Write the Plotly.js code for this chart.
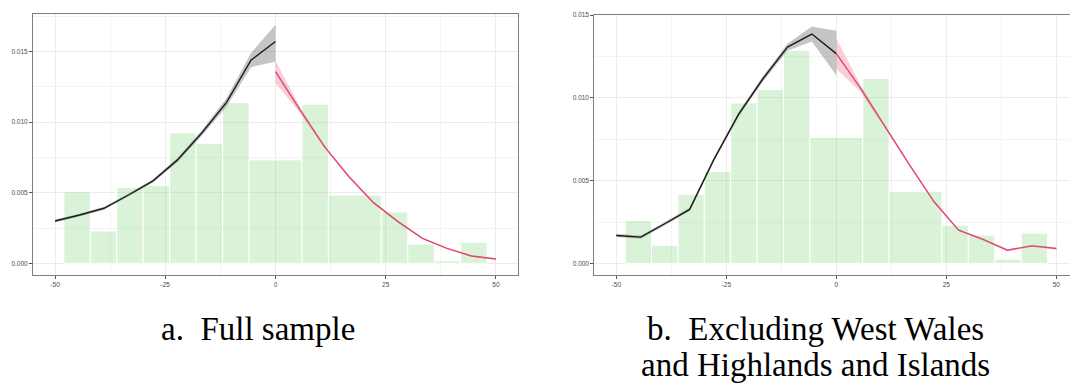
<!DOCTYPE html>
<html>
<head>
<meta charset="utf-8">
<script src="https://cdn.plot.ly/plotly-3.0.1.min.js"></script>
<style>
html,body{margin:0;padding:0;background:#fff;overflow:hidden;}
#chart{width:1070px;height:383px;}
</style>
</head>
<body>
<div id="chart"></div>
<script>
// ---------- data ----------
var binLeft  = [-48, -42, -36, -30, -24, -18, -12, -6, 6, 12, 24, 30, 36, 42];
var binRight = [-42, -36, -30, -24, -18, -12, -6, 6, 12, 24, 30, 36, 42, 48];

var histA = [0.00508, 0.00229, 0.00539, 0.00553, 0.00924, 0.00851, 0.01139, 0.00733, 0.01128, 0.00484, 0.00364, 0.00137, 0.00018, 0.00149];
var histB = [0.00259, 0.00110, 0.00418, 0.00555, 0.00969, 0.01050, 0.01287, 0.00762, 0.01118, 0.00436, 0.00231, 0.00171, 0.00026, 0.00183];

var xLeft  = [-50, -44.44, -38.89, -33.33, -27.78, -22.22, -16.67, -11.11, -5.56, 0];
var xRight = [0, 5.56, 11.11, 16.67, 22.22, 27.78, 33.33, 38.89, 44.44, 50];

// panel a fits
var fitALeft      = [0.00300, 0.00342, 0.00390, 0.00484, 0.00584, 0.00733, 0.00925, 0.01140, 0.01440, 0.01572];
var fitALeftLow   = [0.00290, 0.00332, 0.00380, 0.00474, 0.00572, 0.00718, 0.00905, 0.01110, 0.01390, 0.01430];
var fitALeftHigh  = [0.00310, 0.00352, 0.00400, 0.00494, 0.00596, 0.00748, 0.00945, 0.01170, 0.01490, 0.01690];
var fitARight     = [0.01359, 0.01087, 0.00827, 0.00614, 0.00430, 0.00295, 0.00177, 0.00106, 0.00052, 0.00030];
var fitARightLow  = [0.01277, 0.01067, 0.00817, 0.00606, 0.00423, 0.00289, 0.00172, 0.00101, 0.00047, 0.00025];
var fitARightHigh = [0.01435, 0.01107, 0.00837, 0.00622, 0.00437, 0.00301, 0.00182, 0.00111, 0.00057, 0.00035];

// panel b fits
var fitBLeft      = [0.00169, 0.00159, 0.00241, 0.00326, 0.00630, 0.00900, 0.01115, 0.01306, 0.01385, 0.01267];
var fitBLeftLow   = [0.00159, 0.00149, 0.00231, 0.00316, 0.00618, 0.00886, 0.01098, 0.01285, 0.01340, 0.01136];
var fitBLeftHigh  = [0.00179, 0.00169, 0.00251, 0.00336, 0.00642, 0.00914, 0.01132, 0.01327, 0.01430, 0.01405];
var fitBRight     = [0.01267, 0.01055, 0.00824, 0.00593, 0.00372, 0.00201, 0.00145, 0.00080, 0.00106, 0.00090];
var fitBRightLow  = [0.01176, 0.01035, 0.00814, 0.00585, 0.00365, 0.00195, 0.00139, 0.00074, 0.00100, 0.00084];
var fitBRightHigh = [0.01358, 0.01075, 0.00834, 0.00601, 0.00379, 0.00207, 0.00151, 0.00086, 0.00112, 0.00096];

var xTickVals  = [-50, -25, 0, 25, 50];
var xTickText  = ["-50", "-25", "0", "25", "50"];
var yTickVals  = [0, 0.005, 0.010, 0.015];
var yTickText  = ["0.000", "0.005", "0.010", "0.015"];

var captionA  = "a.  Full sample";
var captionB1 = "b.  Excluding West Wales";
var captionB2 = "and Highlands and Islands";

// ---------- build ----------
var W = 1070, H = 383;
var binCenter = binLeft.map(function(l, i){ return (l + binRight[i]) / 2; });
var binWidth  = binLeft.map(function(l, i){ return binRight[i] - l; });

var barFill = 'rgba(120,210,110,0.27)';
var bandGray = 'rgba(110,110,110,0.40)';
var bandPink = 'rgba(228,60,100,0.25)';
var lineBlack = '#1a1a1a';
var lineRed = '#e0466a';

function panel(xa, ya, hist, lo1, hi1, f1, lo2, hi2, f2) {
  return [
    {type:'bar', x:binCenter, y:hist, width:binWidth, xaxis:xa, yaxis:ya,
     marker:{color:barFill, line:{color:'#ffffff', width:1}}, hoverinfo:'skip'},
    {type:'scatter', mode:'lines', x:xLeft, y:lo1, xaxis:xa, yaxis:ya,
     line:{width:0, color:bandGray}, hoverinfo:'skip'},
    {type:'scatter', mode:'lines', x:xLeft, y:hi1, xaxis:xa, yaxis:ya,
     line:{width:0, color:bandGray}, fill:'tonexty', fillcolor:bandGray, hoverinfo:'skip'},
    {type:'scatter', mode:'lines', x:xRight, y:lo2, xaxis:xa, yaxis:ya,
     line:{width:0, color:bandPink}, hoverinfo:'skip'},
    {type:'scatter', mode:'lines', x:xRight, y:hi2, xaxis:xa, yaxis:ya,
     line:{width:0, color:bandPink}, fill:'tonexty', fillcolor:bandPink, hoverinfo:'skip'},
    {type:'scatter', mode:'lines', x:xLeft, y:f1, xaxis:xa, yaxis:ya,
     line:{width:1.4, color:lineBlack}},
    {type:'scatter', mode:'lines', x:xRight, y:f2, xaxis:xa, yaxis:ya,
     line:{width:1.4, color:lineRed}}
  ];
}

var data = [].concat(
  panel('x', 'y', histA, fitALeftLow, fitALeftHigh, fitALeft, fitARightLow, fitARightHigh, fitARight),
  panel('x2', 'y2', histB, fitBLeftLow, fitBLeftHigh, fitBLeft, fitBRightLow, fitBRightHigh, fitBRight)
);

var tickFont = {family:'Liberation Sans, Arial, sans-serif', size:6.5, color:'#4d4d4d'};
function xAxis(domain, range, mirror) {
  return {domain:domain, range:range, tickvals:xTickVals, ticktext:xTickText,
    showgrid:true, gridcolor:'#ebebeb', gridwidth:1, zeroline:false,
    minor:{dtick:12.5, tick0:0, showgrid:true, gridcolor:'#f4f4f4', gridwidth:1},
    showline:true, mirror:mirror, linecolor:'#7f7f7f', linewidth:1,
    ticks:'outside', ticklen:3, tickcolor:'#555', tickwidth:1,
    tickfont:tickFont, fixedrange:true};
}
function yAxis(domain, range, anchor, mirror) {
  return {domain:domain, range:range, anchor:anchor, tickvals:yTickVals, ticktext:yTickText,
    showgrid:true, gridcolor:'#ebebeb', gridwidth:1, zeroline:false,
    minor:{dtick:0.0025, tick0:0, showgrid:true, gridcolor:'#f4f4f4', gridwidth:1},
    showline:true, mirror:mirror, linecolor:'#7f7f7f', linewidth:1,
    ticks:'outside', ticklen:3, tickcolor:'#555', tickwidth:1,
    tickfont:tickFont, fixedrange:true};
}

var layout = {
  width:W, height:H,
  margin:{l:0, r:0, t:0, b:0, pad:0},
  paper_bgcolor:'#ffffff', plot_bgcolor:'#ffffff',
  showlegend:false,
  bargap:0,
  xaxis:  Object.assign(xAxis([33/W, 518/W], [-55, 55], true), {anchor:'y'}),
  yaxis:  yAxis([1-275/H, 1-14/H], [-0.00083, 0.01767], 'x', true),
  xaxis2: Object.assign(xAxis([594.3/W, 1], [-55, 53.1], true), {anchor:'y2'}),
  yaxis2: yAxis([1-275/H, 1-14.7/H], [-0.0007, 0.01502], 'x2', false),
  annotations:[
    {text:captionA, xref:'paper', yref:'paper', x:257.5/W, y:1-329/H, xanchor:'center', yanchor:'middle',
     showarrow:false, font:{family:'Liberation Serif, serif', size:33, color:'#000'}},
    {text:captionB1, xref:'paper', yref:'paper', x:815/W, y:1-329/H, xanchor:'center', yanchor:'middle',
     showarrow:false, font:{family:'Liberation Serif, serif', size:33, color:'#000'}},
    {text:captionB2, xref:'paper', yref:'paper', x:815/W, y:1-365/H, xanchor:'center', yanchor:'middle',
     showarrow:false, font:{family:'Liberation Serif, serif', size:33, color:'#000'}}
  ]
};

Plotly.newPlot('chart', data, layout, {staticPlot:true, displayModeBar:false});
</script>
</body>
</html>
